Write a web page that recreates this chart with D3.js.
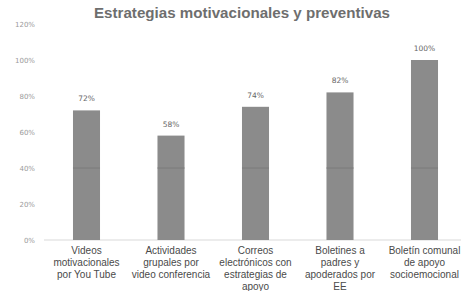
<!DOCTYPE html>
<html>
<head>
<meta charset="utf-8">
<script src="https://cdn.jsdelivr.net/npm/d3@7"></script>
<style>
  body { margin: 0; background: #fff; }
  svg { display: block; }
</style>
</head>
<body>
<svg id="chart" width="461" height="291"></svg>
<script>
var categories = ['videos', 'actividades', 'correos', 'boletines', 'boletin'];
var labelLines = [
    ['Videos', 'motivacionales', 'por You Tube'],
    ['Actividades', 'grupales por', 'video conferencia'],
    ['Correos', 'electrónicos con', 'estrategias de', 'apoyo'],
    ['Boletines a', 'padres y', 'apoderados por', 'EE'],
    ['Boletín comunal', 'de apoyo', 'socioemocional']
];
var values = [72, 58, 74, 82, 100];
var yTicks = [0, 20, 40, 60, 80, 100, 120];
var title = 'Estrategias motivacionales y preventivas';

var svg = d3.select('#chart');

var x = d3.scaleBand()
    .domain(categories)
    .range([44.25, 466.75])
    .paddingInner(0.68)
    .paddingOuter(0.34);

var y = d3.scaleLinear()
    .domain([0, 120])
    .range([240, 24]);

// title
svg.append('text')
    .attr('x', 242)
    .attr('y', 18)
    .attr('text-anchor', 'middle')
    .attr('font-family', 'Liberation Sans, Arial, sans-serif')
    .attr('font-weight', 'bold')
    .attr('font-size', 15)
    .attr('fill', '#6e6e6e')
    .attr('textLength', 296)
    .attr('lengthAdjust', 'spacingAndGlyphs')
    .text(title);

// y axis labels, no line
var yAxis = d3.axisLeft(y)
    .tickValues(yTicks)
    .tickSize(0)
    .tickPadding(0)
    .tickFormat(function(d) { return d + '%'; });

var ga = svg.append('g')
    .attr('transform', 'translate(35,0)')
    .call(yAxis);
ga.select('.domain').remove();
ga.selectAll('text')
    .attr('font-family', 'DejaVu Sans, sans-serif')
    .attr('font-size', 7)
    .attr('fill', '#9a9a9a');

// baseline
svg.append('line')
    .attr('x1', 44)
    .attr('x2', 461)
    .attr('y1', y(0))
    .attr('y2', y(0))
    .attr('stroke', '#d9d9d9')
    .attr('stroke-width', 1);

// bars
svg.append('g').selectAll('rect')
    .data(values)
    .enter()
    .append('rect')
    .attr('x', function(d, i) { return x(categories[i]); })
    .attr('y', function(d) { return y(d); })
    .attr('width', x.bandwidth())
    .attr('height', function(d) { return y(0) - y(d); })
    .attr('fill', '#8b8b8b');

// faint gridline showing through the bars at 40%
svg.append('g').selectAll('line')
    .data(values)
    .enter()
    .append('line')
    .attr('x1', function(d, i) { return x(categories[i]); })
    .attr('x2', function(d, i) { return x(categories[i]) + x.bandwidth(); })
    .attr('y1', y(40))
    .attr('y2', y(40))
    .attr('stroke', '#7a7a7a')
    .attr('stroke-width', 1);

// value labels
svg.append('g').selectAll('text')
    .data(values)
    .enter()
    .append('text')
    .attr('x', function(d, i) { return x(categories[i]) + x.bandwidth() / 2; })
    .attr('y', function(d) { return y(d) - 9; })
    .attr('text-anchor', 'middle')
    .attr('font-family', 'DejaVu Sans, sans-serif')
    .attr('font-size', 7.5)
    .attr('fill', '#666')
    .text(function(d) { return d + '%'; });

// category labels
var cl = svg.append('g').selectAll('text')
    .data(labelLines)
    .enter()
    .append('text')
    .attr('text-anchor', 'middle')
    .attr('font-family', 'Liberation Sans, Arial, sans-serif')
    .attr('font-size', 10)
    .attr('fill', '#4a4a4a');

cl.each(function(lines, i) {
    var t = d3.select(this);
    lines.forEach(function(line, j) {
        t.append('tspan')
            .attr('x', x(categories[i]) + x.bandwidth() / 2)
            .attr('y', 254 + j * 12)
            .text(line);
    });
});
</script>
</body>
</html>
